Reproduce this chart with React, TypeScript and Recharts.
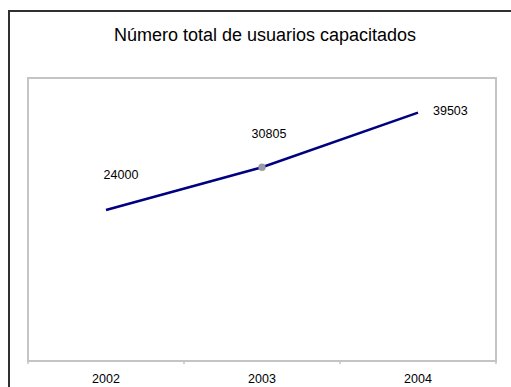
import React from "react";
import { LineChart, Line, XAxis, YAxis, LabelList, ReferenceArea } from "recharts";

// values (Excel-style line chart, no y ticks shown)
const years = ["2002", "2003", "2004"];
const usuarios = [24000, 30805, 39503];
const yDomain: [number, number] = [0, 45000];

const rows = years.map((year, i) => ({ year, usuarios: usuarios[i] }));

const FONT = '"Liberation Sans", Arial, sans-serif';
const FRAME = "#c4c4c4";
const NAVY = "#000080";

// where Excel dropped each data label relative to its point
const LABEL_POS = [
  { dx: 15, dy: -35, anchor: "middle" },
  { dx: 7, dy: -33, anchor: "middle" },
  { dx: 15, dy: -2, anchor: "start" },
];

function YearTick(props: any) {
  const { x, y, payload, index } = props;
  const half = payload?.offset || 78;
  return (
    <g>
      <line x1={x - half} x2={x - half} y1={y} y2={y + 3} stroke={FRAME} strokeWidth={1.5} />
      {index === years.length - 1 && (
        <line x1={x + half} x2={x + half} y1={y} y2={y + 3} stroke={FRAME} strokeWidth={1.5} />
      )}
      <text x={x} y={y + 18} textAnchor="middle" dominantBaseline="central" fontSize={12.5} fontFamily={FONT} fill="#000">
        {payload.value}
      </text>
    </g>
  );
}

function ValueLabel(props: any) {
  const { x, y, value, index } = props;
  const p = LABEL_POS[index] ?? LABEL_POS[0];
  return (
    <text x={x + p.dx} y={y + p.dy} textAnchor={p.anchor} dominantBaseline="central" fontSize={12.5} fontFamily={FONT} fill="#000">
      {value}
    </text>
  );
}

function MiddleDot(props: any) {
  const { cx, cy, index } = props;
  if (index !== 1) return <g key={`d${index}`} />;
  return <circle key={`d${index}`} cx={cx} cy={cy} r={3.5} fill="#9a9aa8" stroke="#8a8a96" strokeWidth={0.5} />;
}

export default function App() {
  return (
    // pinned to the page corner so the picture is exactly the window, no scrolling
    <div style={{ position: "absolute", left: 0, top: 0, width: 511, height: 387, overflow: "hidden", background: "#fff" }}>
      {/* the Excel chart-area frame, cut off on the right and bottom in the original */}
      <div
        style={{
          position: "absolute",
          left: 8,
          top: 10,
          width: 530,
          height: 400,
          borderLeft: "2px solid #303030",
          borderTop: "2px solid #303030",
          boxSizing: "border-box",
        }}
      />
      <div
        style={{
          position: "absolute",
          left: 8,
          top: 24,
          width: 514,
          textAlign: "center",
          fontFamily: FONT,
          fontSize: 18,
          lineHeight: "22px",
          color: "#000",
        }}
      >
        Número total de usuarios capacitados
      </div>
      <LineChart width={511} height={387} data={rows} margin={{ top: 78, right: 15, left: 28, bottom: 0 }}>
        <XAxis
          dataKey="year"
          scale="band"
          height={26}
          tickLine={false}
          tickSize={0}
          tickMargin={0}
          interval={0}
          axisLine={{ stroke: FRAME, strokeWidth: 2 }}
          tick={<YearTick />}
        />
        <YAxis domain={yDomain} hide />
        <ReferenceArea y1={yDomain[0]} y2={yDomain[1]} fill="none" stroke={FRAME} strokeWidth={2} ifOverflow="visible" />
        <Line
          dataKey="usuarios"
          stroke={NAVY}
          strokeWidth={2.5}
          dot={<MiddleDot />}
          activeDot={false}
          isAnimationActive={false}
        >
          <LabelList dataKey="usuarios" content={<ValueLabel />} />
        </Line>
      </LineChart>
    </div>
  );
}
